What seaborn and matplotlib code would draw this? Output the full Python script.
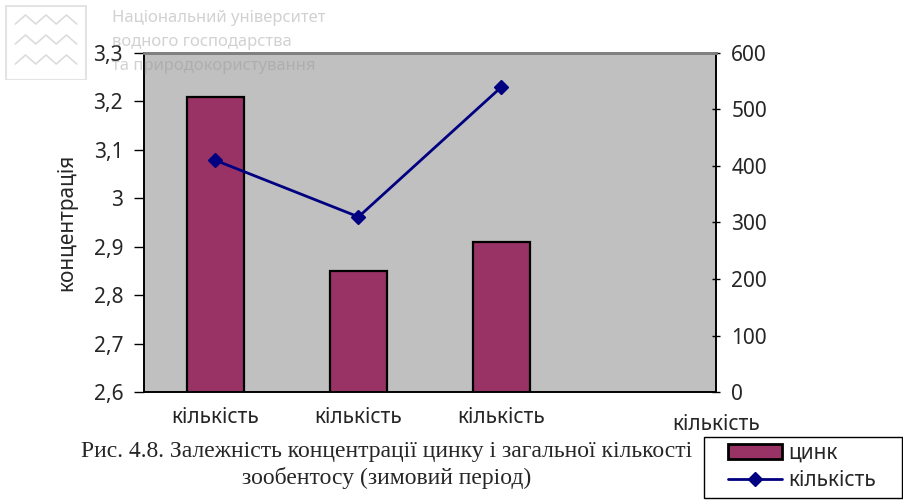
import pandas as pd
import seaborn as sns
import matplotlib.pyplot as plt
from matplotlib.lines import Line2D
from matplotlib.patches import Patch, Rectangle

# values
groups = ["1", "2", "3", "4"]
tick_labels = ["кількість", "кількість", "кількість", "кількість"]
zinc = [3.21, 2.85, 2.91, None]
count = [410, 310, 540, None]

left_ticks = [2.6, 2.7, 2.8, 2.9, 3.0, 3.1, 3.2, 3.3]
right_ticks = [0, 100, 200, 300, 400, 500, 600]

caption = ("Рис. 4.8. Залежність концентрації цинку і загальної кількості\n"
           "зообентосу (зимовий період)")
watermark = ["Національний університет", "водного господарства",
             "та природокористування"]

sns.set_style("white")
plt.rcParams['font.family'] = ['Noto Sans', 'DejaVu Sans']

bar_color = "#993366"
line_color = "#000080"
fs = 15

df = pd.DataFrame({"group": groups, "zinc": zinc, "count": count})

fig = plt.figure(figsize=(9.04, 5.0), dpi=100)
ax = fig.add_axes([144 / 904, 108 / 500, 572 / 904, 339 / 500])
ax.set_facecolor("#c0c0c0")

sns.barplot(data=df.dropna(), x="group", y="zinc", order=groups, ax=ax,
            color=bar_color, saturation=1, width=0.4,
            edgecolor="black", linewidth=1.6)
ax.set_ylim(2.6, 3.3)
ax.set_xlim(-0.5, 3.5)
ax.set_yticks(left_ticks)
ax.set_yticklabels([f"{v:g}".replace(".", ",") for v in left_ticks], fontsize=fs)
ax.set_xticks(range(3))
ax.set_xticklabels(tick_labels[:3], fontsize=fs)
ax.set_xticks([-0.5, 0.5, 1.5, 2.5, 3.5], minor=True)
ax.tick_params(axis="x", which="major", length=0, pad=11)
ax.tick_params(axis="x", which="minor", length=7, width=1, direction="out", color="black")
ax.tick_params(axis="y", length=7, width=1, direction="out", color="black", pad=8)
ax.text(3.5, -0.095, tick_labels[3], transform=ax.get_xaxis_transform(),
        ha="center", va="center", fontsize=fs)
ax.set_xlabel("")
ax.set_ylabel("концентрація", fontsize=fs, labelpad=12)

ax2 = ax.twinx()
ax2.plot(range(3), count[:3], color=line_color, lw=2, marker="D", markersize=7)
ax2.set_ylim(0, 600)
ax2.set_yticks(right_ticks)
ax2.set_yticklabels([str(v) for v in right_ticks], fontsize=fs)
ax2.tick_params(axis="y", length=6, width=1, direction="inout", color="black", pad=8)

for a in (ax, ax2):
    for side in ("left", "right", "bottom"):
        a.spines[side].set_color("black")
        a.spines[side].set_linewidth(1.2)
    a.spines["top"].set_color("#808080")
    a.spines["top"].set_linewidth(2)

fig.text(387 / 904, 1 - 465 / 500, caption, ha="center", va="center",
         family="Liberation Serif", fontsize=17, linespacing=1.3)

# legend: frame drawn separately so the inner padding matches
fig.patches.append(Rectangle((704 / 904, 2 / 500), 198 / 904, 61 / 500,
                             transform=fig.transFigure, fill=False,
                             edgecolor="black", lw=1))
handles = [Patch(facecolor=bar_color, edgecolor="black", linewidth=2),
           Line2D([], [], color=line_color, lw=2, marker="D", markersize=7)]
leg = fig.legend(handles, ["цинк", "кількість"], loc="center left",
                 bbox_to_anchor=(722 / 904, 1 - 467 / 500), fontsize=fs,
                 frameon=False, handlelength=2.6, handletextpad=0.3,
                 borderpad=0.3, labelspacing=0.3, borderaxespad=0)

# watermark in the corner
logo = fig.add_axes([5 / 904, 1 - 80 / 500, 82 / 904, 75 / 500])
logo.set_xlim(0, 8)
logo.set_ylim(0, 7.5)
logo.axis("off")
logo.add_patch(Rectangle((0.05, 0.05), 7.9, 7.4, fill=False, edgecolor="#e3e3e3", lw=1.5))
for yy in (5.6, 3.6, 1.6):
    logo.plot([1, 2, 3, 4, 5, 6, 7], [yy, yy + 0.9, yy, yy + 0.9, yy, yy + 0.9, yy],
              color="#dcdcdc", lw=1.2)
for i, line in enumerate(watermark):
    fig.text(112 / 904, 1 - (18 + 24 * i) / 500, line, ha="left", va="center",
             fontsize=12, color="#9a9a9a", alpha=0.45, zorder=10)

fig.savefig("out.png", dpi=100)
